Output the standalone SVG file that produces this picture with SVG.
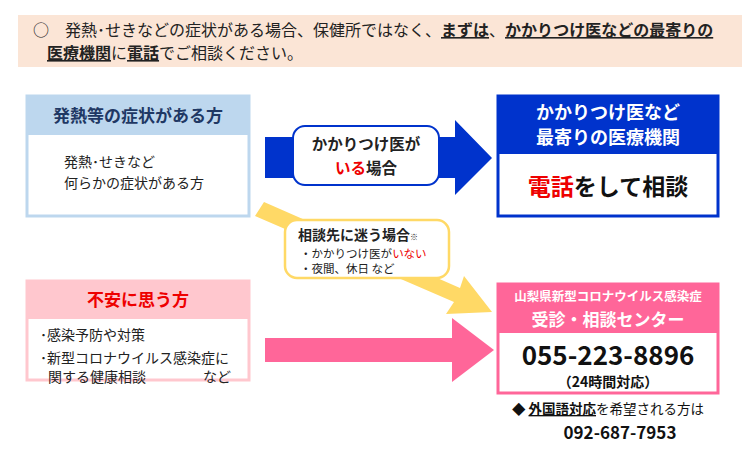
<svg xmlns="http://www.w3.org/2000/svg" width="750" height="452" viewBox="0 0 750 452">
<style>
text{font-family:"Noto Sans CJK JP","Noto Sans",sans-serif}
.b{font-weight:bold}
</style>
<rect width="750" height="452" fill="#fff"/>
<g id="banner">
<rect x="18" y="15" width="724" height="52" fill="#fbe5d6"/>
<text x="33" y="36" font-size="16" fill="#222">○　発熱･せきなどの症状がある場合、保健所ではなく、<tspan class="b" text-decoration="underline">まずは</tspan>、<tspan class="b" text-decoration="underline">かかりつけ医などの最寄りの</tspan></text>
<text x="47" y="59" font-size="16" fill="#222"><tspan class="b" text-decoration="underline">医療機関</tspan>に<tspan class="b" text-decoration="underline">電話</tspan>でご相談ください。</text>
</g>
<g id="connectors">
<polygon points="265,137 455,137 455,120 492,158 455,195 455,178 265,178" fill="#0033cc"/>
<polygon points="264,202 460,288 464,276 492,312 446,314 454,302 255,216" fill="#ffd966"/>
<polygon points="265,338 452,338 452,318 494,350 452,382 452,362 265,362" fill="#ff6699"/>
</g>
<g id="n-fever">
<rect x="27" y="96" width="222" height="120" fill="#fff" stroke="#bdd7ee" stroke-width="3"/>
<rect x="27" y="96" width="222" height="39" fill="#bdd7ee"/>
<text x="138" y="122" font-size="17" class="b" fill="#1f3864" text-anchor="middle">発熱等の症状がある方</text>
<text x="64" y="167" font-size="14" fill="#222">発熱･せきなど</text>
<text x="64" y="188" font-size="14" fill="#222">何らかの症状がある方</text>
</g>
<g id="l-have">
<rect x="293" y="126" width="146" height="59" rx="12" fill="#fff" stroke="#0033cc" stroke-width="2"/>
<text x="366" y="150" font-size="15.5" class="b" fill="#222" text-anchor="middle">かかりつけ医が</text>
<text x="366" y="174" font-size="15.5" class="b" fill="#222" text-anchor="middle"><tspan fill="#e00">いる</tspan>場合</text>
</g>
<g id="n-clinic">
<rect x="498" y="96" width="220" height="120" fill="#fff" stroke="#0033cc" stroke-width="3"/>
<rect x="498" y="96" width="220" height="58" fill="#0033cc"/>
<text x="608" y="119" font-size="18" class="b" fill="#fff" text-anchor="middle">かかりつけ医など</text>
<text x="608" y="144" font-size="18" class="b" fill="#fff" text-anchor="middle">最寄りの医療機関</text>
<text x="608" y="195" font-size="23" class="b" fill="#111" text-anchor="middle"><tspan fill="#e00">電話</tspan>をして相談</text>
</g>
<g id="l-lost">
<rect x="285" y="220" width="164" height="58" rx="12" fill="#fff" stroke="#ffd966" stroke-width="2.5"/>
<text x="298" y="240" font-size="14" class="b" fill="#222">相談先に迷う場合<tspan font-size="8">※</tspan></text>
<text x="300" y="258" font-size="11.5" fill="#222">・かかりつけ医が<tspan fill="#e00">いない</tspan></text>
<text x="300" y="273" font-size="11.5" fill="#222">・夜間、休日 など</text>
</g>
<g id="n-anxious">
<rect x="27" y="281" width="222" height="99" fill="#fff" stroke="#ffc7ce" stroke-width="3"/>
<rect x="27" y="281" width="222" height="38" fill="#ffc7ce"/>
<text x="138" y="306" font-size="17" class="b" fill="#e00" text-anchor="middle">不安に思う方</text>
<text x="40" y="340" font-size="14" fill="#222">･感染予防や対策</text>
<text x="40" y="363" font-size="14" fill="#222">･新型コロナウイルス感染症に</text>
<text x="48" y="382" font-size="14" fill="#222">関する健康相談</text>
<text x="203" y="382" font-size="14" fill="#222">など</text>
</g>
<g id="n-center">
<rect x="498" y="284" width="220" height="109" fill="#fff" stroke="#ff6699" stroke-width="3"/>
<rect x="498" y="284" width="220" height="49" fill="#ff6699"/>
<text x="608" y="301" font-size="12.5" class="b" fill="#fff" text-anchor="middle">山梨県新型コロナウイルス感染症</text>
<text x="608" y="326" font-size="17" class="b" fill="#fff" text-anchor="middle">受診・相談センター</text>
<text x="608" y="365" font-size="26" class="b" fill="#111" text-anchor="middle">055-223-8896</text>
<text x="608" y="387" font-size="14" class="b" fill="#111" text-anchor="middle">（24時間対応）</text>
</g>
<g id="foreign">
<text x="608" y="414" font-size="13.5" fill="#111" text-anchor="middle">◆ <tspan class="b" text-decoration="underline">外国語対応</tspan>を希望される方は</text>
<text x="620" y="439" font-size="17" class="b" fill="#111" text-anchor="middle">092-687-7953</text>
</g>
</svg>
